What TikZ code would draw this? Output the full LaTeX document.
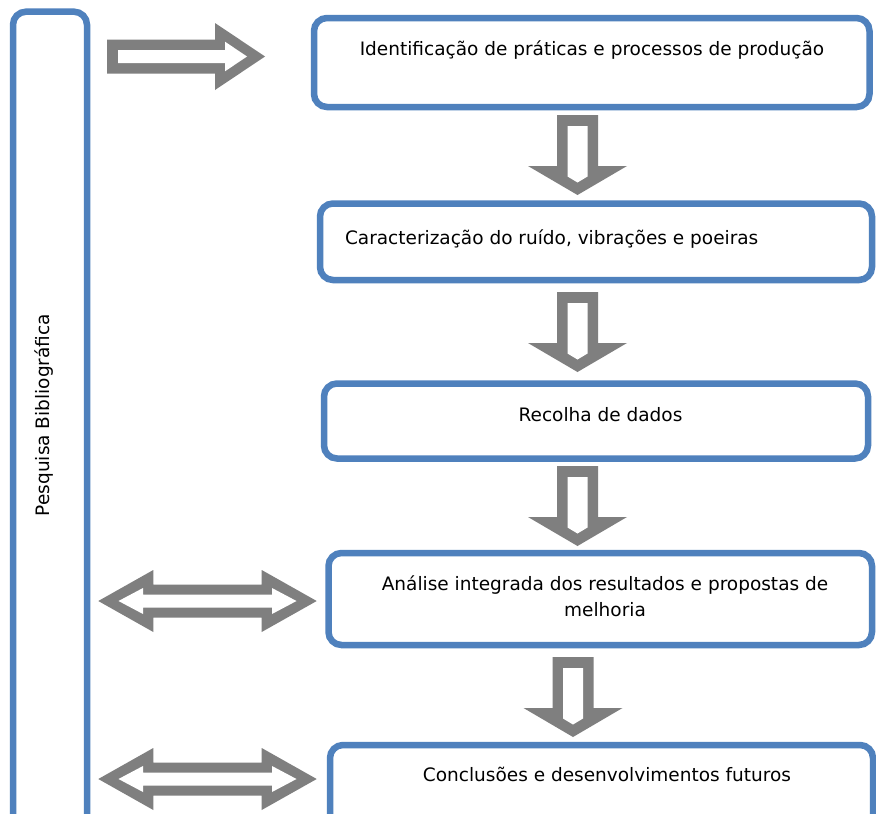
\documentclass[tikz,border=0pt]{standalone}
\usepackage{fontspec}
\setmainfont{DejaVu Sans}
\definecolor{boxblue}{HTML}{4F81BD}
\definecolor{arrgray}{HTML}{7F7F7F}
\tikzset{
  stepbox/.style={draw=boxblue, line width=6.5pt, rounded corners=13pt, fill=white, inner sep=0pt, outer sep=0pt},
  lbl/.style={inner sep=0pt, outer sep=0pt, font=\fontsize{18.5}{26}\selectfont},
  downarr/.pic={
    \fill[arrgray] (-20.5,0) -- (20.5,0) -- (20.5,51) -- (49.5,51) -- (0,80) -- (-49.5,51) -- (-20.5,51) -- cycle;
    \fill[white] (-10,11) -- (10,11) -- (10,61.5) -- (0,67.5) -- (-10,61.5) -- cycle;
  },
  rightarr/.pic={
    \fill[arrgray] (0,-17) -- (108,-17) -- (108,-33.5) -- (158,0) -- (108,33.5) -- (108,17) -- (0,17) -- cycle;
    \fill[white] (11,-6.5) -- (118,-6.5) -- (118,-14.8) -- (140,0) -- (118,14.8) -- (118,6.5) -- (11,6.5) -- cycle;
  },
  dblarr/.pic={
    \fill[arrgray] (-109.2,0) -- (-54.2,-31) -- (-54.2,-16.5) -- (54.2,-16.5) -- (54.2,-31) -- (109.2,0)
      -- (54.2,31) -- (54.2,16.5) -- (-54.2,16.5) -- (-54.2,31) -- cycle;
    \fill[white] (-89,0) -- (-64.5,-13) -- (-64.5,-6.5) -- (64.5,-6.5) -- (64.5,-13) -- (89,0)
      -- (64.5,13) -- (64.5,6.5) -- (-64.5,6.5) -- (-64.5,13) -- cycle;
  }
}
\begin{document}
\begin{tikzpicture}[x=1pt, y=-1pt]
\useasboundingbox (0,0) rectangle (876,814);
\clip (0,0) rectangle (876,814);
\fill[white] (0,0) rectangle (876,814);

% left tall box
\node[stepbox, anchor=north, minimum width=74pt, minimum height=900pt] (lb) at (50,11.7) {};
\node[lbl, rotate=90] (lbt) at (44,415) {Pesquisa Bibliográfica};

% process boxes
\node[stepbox, minimum width=555.5pt, minimum height=89pt] (b1) at (591.75,62.5) {};
\node[stepbox, minimum width=552pt, minimum height=76.5pt] (b2) at (596,241.75) {};
\node[stepbox, minimum width=544pt, minimum height=75pt] (b3) at (596,421) {};
\node[stepbox, minimum width=543.5pt, minimum height=92pt] (b4) at (600.25,599) {};
\node[stepbox, anchor=north, minimum width=543pt, minimum height=100pt] (b5) at (601.5,745) {};

% texts
\node[lbl, anchor=base] (t1) at (592,55.5) {Identificação de práticas e processos de produção};
\node[lbl, anchor=base west] (t2) at (345,244) {Caracterização do ruído, vibrações e poeiras};
\node[lbl, anchor=base] (t3) at (600.5,421) {Recolha de dados};
\node[lbl, align=center] (t4) at (605,596.5) {Análise integrada dos resultados e propostas de\\melhoria};
\node[lbl, anchor=base] (t5) at (607,781) {Conclusões e desenvolvimentos futuros};

% block arrows
\pic at (107,56.5) {rightarr};
\pic at (577.5,115) {downarr};
\pic at (577.5,292) {downarr};
\pic at (577.5,466) {downarr};
\pic at (573,657) {downarr};
\pic at (207.5,601) {dblarr};
\pic at (207.5,779) {dblarr};
\end{tikzpicture}
\end{document}
